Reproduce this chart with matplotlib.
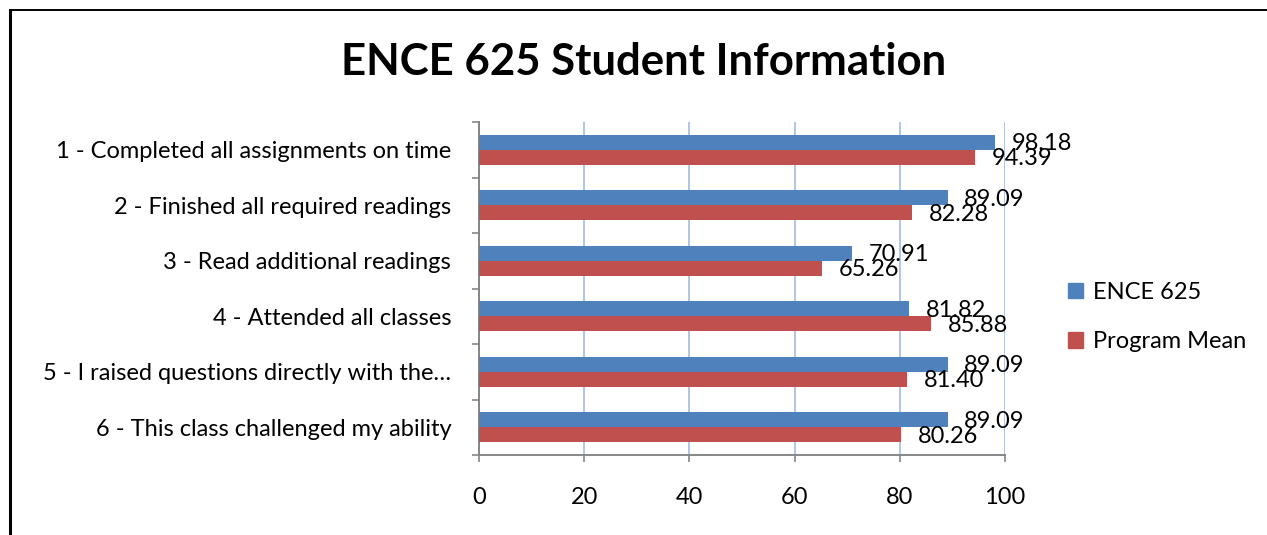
import numpy as np
import matplotlib
matplotlib.use('Agg')
import matplotlib.pyplot as plt
import matplotlib.lines as mlines
import matplotlib.patches as mpatches

# --- data ---
categories = [
    '1 - Completed all assignments on time',
    '2 - Finished all required readings',
    '3 - Read additional readings',
    '4 - Attended all classes',
    '5 - I raised questions directly with the…',
    '6 - This class challenged my ability',
]
ence_625 = [98.18, 89.09, 70.91, 81.82, 89.09, 89.09]
program_mean = [94.39, 82.28, 65.26, 85.88, 81.40, 80.26]
series_names = ['ENCE 625', 'Program Mean']
x_ticks = [0, 20, 40, 60, 80, 100]

BLUE = '#4F81BD'
RED = '#C0504D'
GRID = '#A9C1E3'
AXIS = '#868686'
FS = 17

plt.rcParams['font.family'] = ['Lato', 'DejaVu Sans']

W, H = 1267, 535
fig = plt.figure(figsize=(W / 100, H / 100), dpi=100)
fig.patch.set_facecolor('white')

ax = fig.add_axes([479 / W, 1 - 455 / H, (1005 - 479) / W, (455 - 122) / H])

y = np.arange(len(categories))
h = 0.27
ax.barh(y - h / 2, ence_625, height=h, color=BLUE, label=series_names[0], zorder=3)
ax.barh(y + h / 2, program_mean, height=h, color=RED, label=series_names[1], zorder=3)

# value labels, offset to the right of each bar end
for yi, v in zip(y - h / 2, ence_625):
    ax.annotate(f'{v:.2f}', (v, yi), xytext=(12, -1), textcoords='offset points',
                ha='left', va='center', fontsize=FS, color='black', zorder=4)
for yi, v in zip(y + h / 2, program_mean):
    ax.annotate(f'{v:.2f}', (v, yi), xytext=(12, -1), textcoords='offset points',
                ha='left', va='center', fontsize=FS, color='black', zorder=4)

ax.set_xlim(0, 100)
ax.set_ylim(len(categories) - 0.5, -0.5)
ax.set_xticks(x_ticks)
ax.set_xticklabels([str(t) for t in x_ticks], fontsize=FS)
ax.set_yticks(y)
ax.set_yticklabels(categories, fontsize=FS)
ax.set_yticks(np.arange(len(categories) + 1) - 0.5, minor=True)

ax.tick_params(axis='y', which='major', length=0, pad=20)
ax.tick_params(axis='y', which='minor', length=5, width=1.2, color=AXIS, direction='out')
ax.tick_params(axis='x', which='major', length=5, width=1.2, color=AXIS, direction='out', pad=18)

ax.grid(axis='x', color=GRID, linewidth=1.3, zorder=0)
for s in ['top', 'right']:
    ax.spines[s].set_visible(False)
for s in ['left', 'bottom']:
    ax.spines[s].set_color(AXIS)
    ax.spines[s].set_linewidth(1.4)

fig.text(644 / W, 1 - 62 / H, 'ENCE 625 Student Information', ha='center', va='center',
         fontsize=31.5, fontweight='bold')

handles = [mpatches.Patch(color=BLUE, label=series_names[0]),
           mpatches.Patch(color=RED, label=series_names[1])]
fig.legend(handles=handles, loc='center left', bbox_to_anchor=(1056 / W, 1 - 317 / H),
           frameon=False, fontsize=FS, handlelength=0.65, handleheight=0.65,
           handletextpad=0.4, labelspacing=1.2, borderpad=0)

# outer chart frame (cropped)
fig.add_artist(mlines.Line2D([10 / W, 1.0], [1 - 10 / H, 1 - 10 / H], color='black',
                             linewidth=1.4, transform=fig.transFigure))
fig.add_artist(mlines.Line2D([10 / W, 10 / W], [1 - 10 / H, 0], color='black',
                             linewidth=2.2, transform=fig.transFigure))

fig.savefig('out.png', dpi=100, facecolor='white')
